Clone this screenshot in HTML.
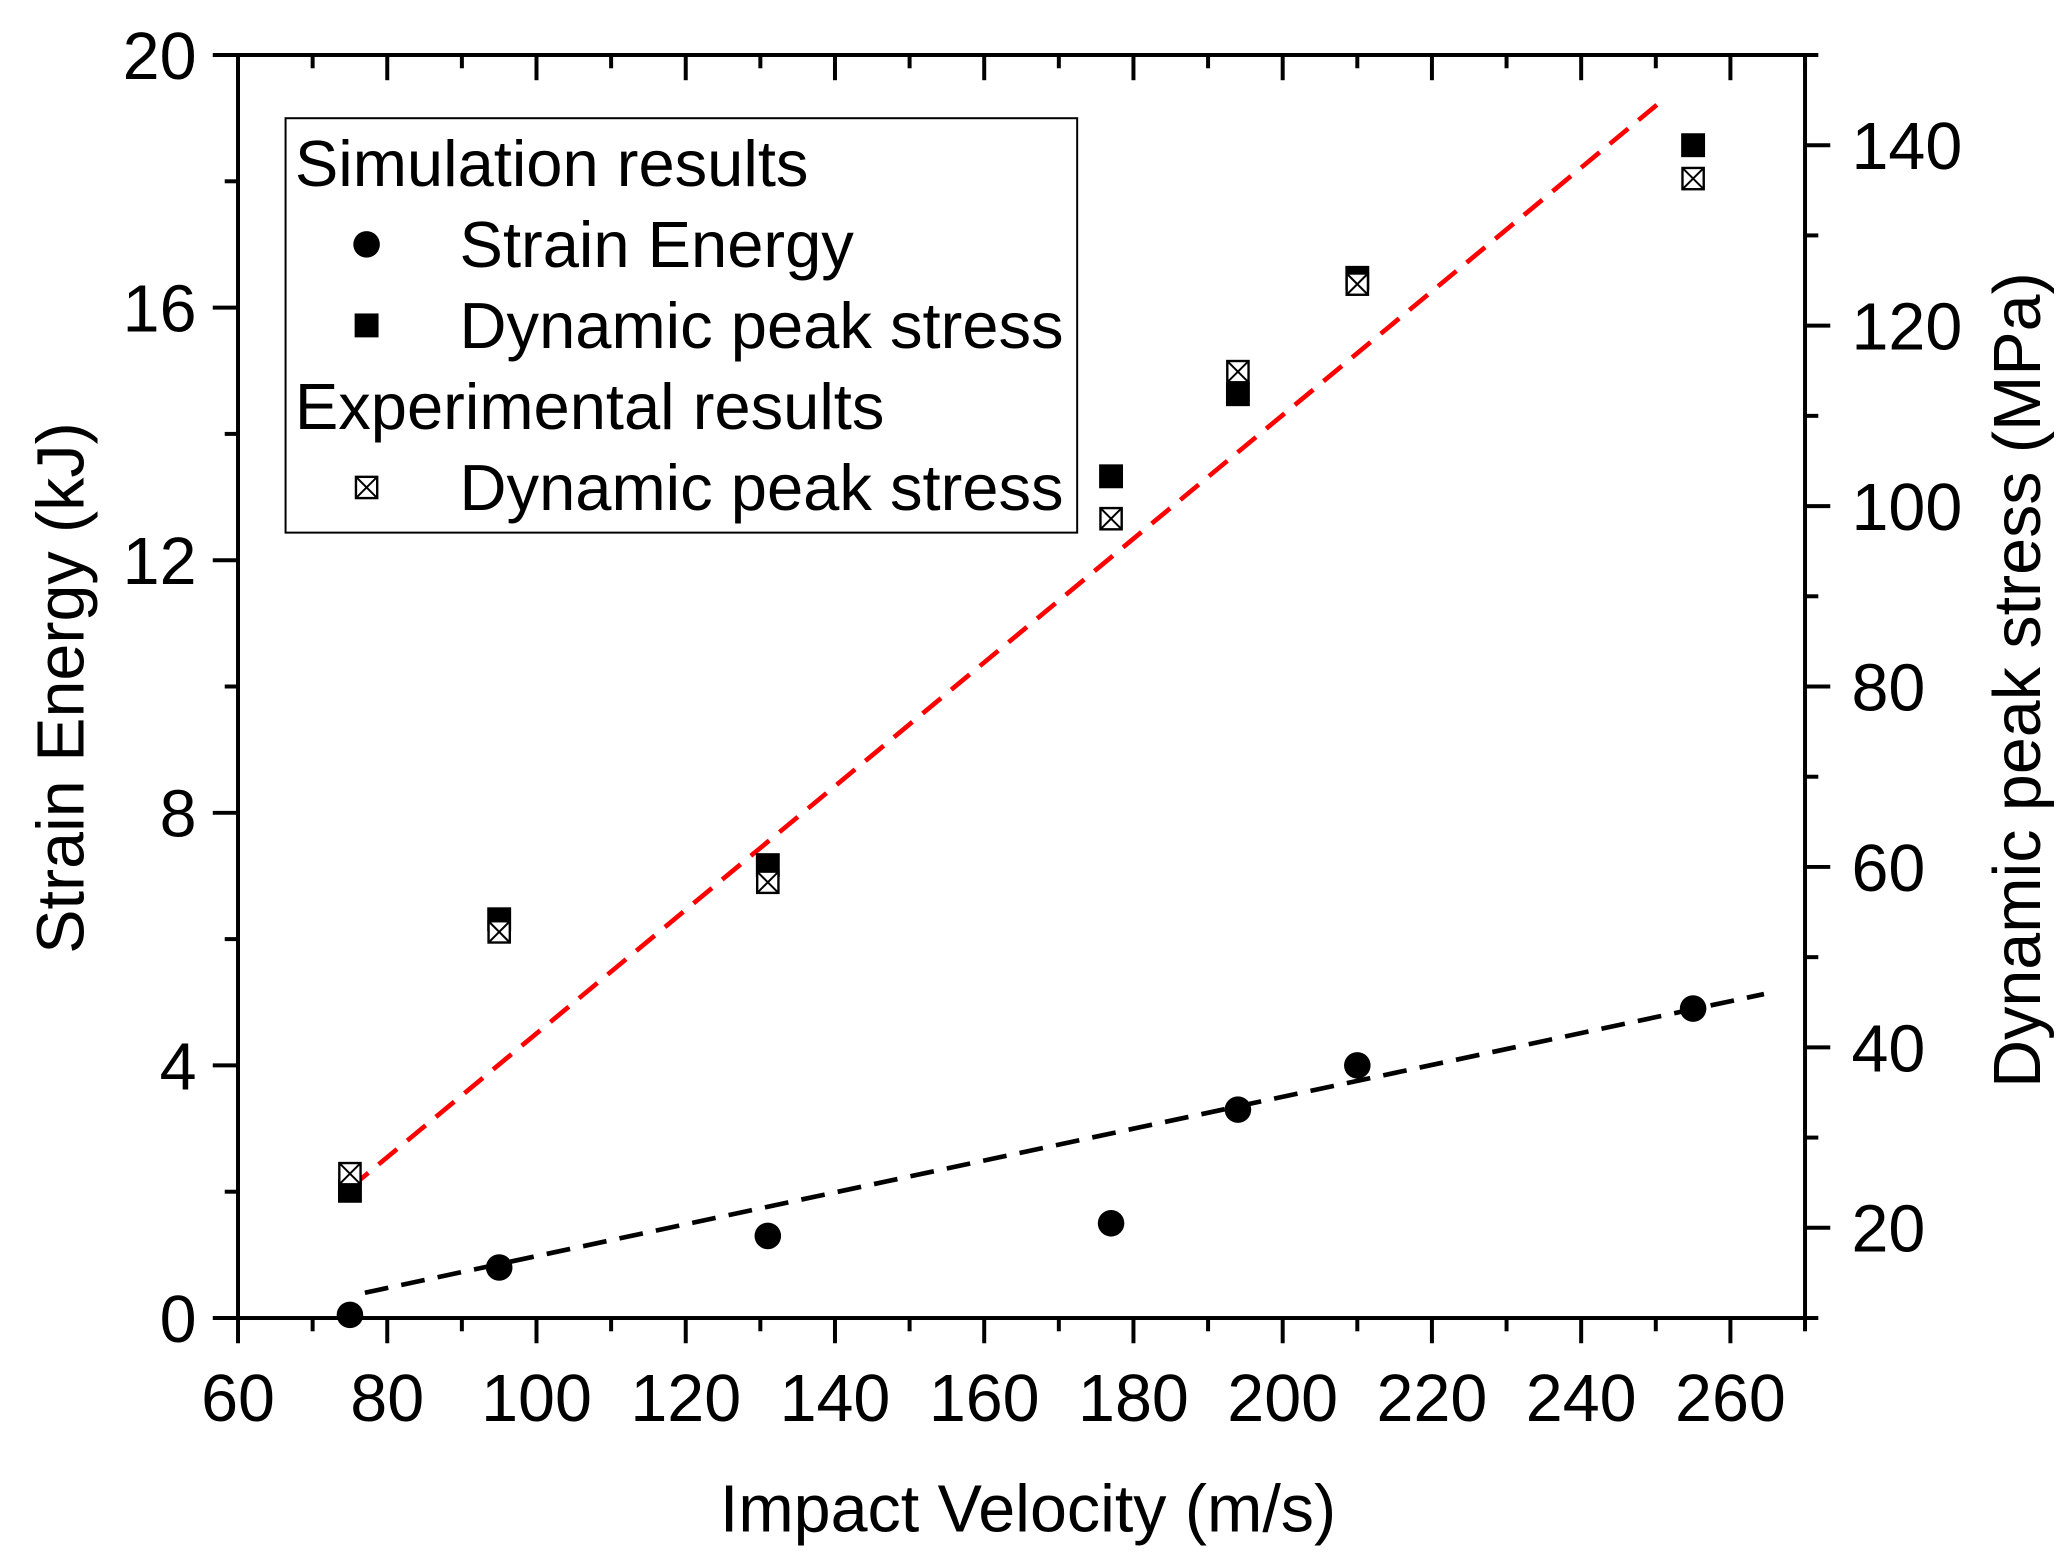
<!DOCTYPE html>
<html><head><meta charset="utf-8"><style>
html,body{margin:0;padding:0;background:#fff;}
svg{display:block;font-family:"Liberation Sans",Arial,sans-serif;}
</style></head><body>
<svg id="chart" width="2072" height="1566" viewBox="0 0 1560 1179" preserveAspectRatio="none" xmlns="http://www.w3.org/2000/svg">
<g id="g"></g>
</svg>
<script>
const velocities=[75,95,131,177,194,210,255];
const strainEnergy=[0.05,0.8,1.3,1.5,3.3,4.0,4.9];
const simStress=[24.1,54.2,60.2,103.3,112.4,125.3,140];
const expStress=[26,52.8,58.3,98.6,114.9,124.6,136.3];
const xTicks=[60,80,100,120,140,160,180,200,220,240,260];
const yLeftTicks=[0,4,8,12,16,20];
const yRightTicks=[20,40,60,80,100,120,140];
const redFit=[[75,24.4],[251.5,145.4]];
const blackFit=[[77,0.4],[264.5,5.13]];

const L=179.2,R=1359,T=41.4,B=992.3;
const X=v=>L+(v-60)*(R-L)/210;
const YL=v=>B-v*(B-T)/20;
const YR=v=>B-(v-10)*(B-T)/140;
const NS="http://www.w3.org/2000/svg";
const g=document.getElementById('g');
function mk(tag,attrs,parent){const e=document.createElementNS(NS,tag);for(const k in attrs)e.setAttribute(k,attrs[k]);(parent||g).appendChild(e);return e;}

let e=mk('rect',{x:L,y:T,width:R-L,height:B-T,fill:'none',stroke:'#000','stroke-width':3});



for(let v=60;v<=270;v+=10){
  const major=v%20===0, x=X(v);
  e=mk('line',{x1:x,x2:x,y1:B,y2:B+(major?19:10),stroke:'#000','stroke-width':3});
  
  
  e=mk('line',{x1:x,x2:x,y1:T,y2:T+(major?19:10),stroke:'#000','stroke-width':3});
  
  
}
xTicks.forEach(v=>{
  e=mk('text',{x:X(v),y:1070,'font-size':50,'text-anchor':'middle'});e.textContent=v;
  
  
});
for(let v=0;v<=20;v+=2){
  const major=v%4===0,y=YL(v);
  e=mk('line',{x1:L-(major?19:10),x2:L,y1:y,y2:y,stroke:'#000','stroke-width':3});
  
  
}
yLeftTicks.forEach(v=>{
  e=mk('text',{x:148,y:YL(v)+18,'font-size':50,'text-anchor':'end'});e.textContent=v;
  
  
});
for(let v=10;v<=150;v+=10){
  const major=v%20===0,y=YR(v);
  e=mk('line',{x1:R,x2:R+(major?19:10),y1:y,y2:y,stroke:'#000','stroke-width':3});
  
  
}
yRightTicks.forEach(v=>{
  e=mk('text',{x:1394,y:YR(v)+18,'font-size':50,'text-anchor':'start'});e.textContent=v;
  
  
});
e=mk('text',{x:774,y:1153,'font-size':50,'text-anchor':'middle'});e.textContent='Impact Velocity (m/s)';


e=mk('text',{x:0,y:0,'font-size':50,'text-anchor':'middle',transform:'translate(63,518) rotate(-90)'});e.textContent='Strain Energy (kJ)';


e=mk('text',{x:0,y:0,'font-size':50,'text-anchor':'middle',transform:'translate(1536,512) rotate(-90)'});e.textContent='Dynamic peak stress (MPa)';



e=mk('line',{x1:X(redFit[0][0]),y1:YR(redFit[0][1]),x2:X(redFit[1][0]),y2:YR(redFit[1][1]),stroke:'#f00','stroke-width':3.5,'stroke-dasharray':'18,10'});


e=mk('line',{x1:X(blackFit[0][0]),y1:YL(blackFit[0][1]),x2:X(blackFit[1][0]),y2:YL(blackFit[1][1]),stroke:'#000','stroke-width':3.5,'stroke-dasharray':'18,10'});



function expMarker(cx,cy,name){
  const s=8;
  const grp=mk('g',{});
  
  
  mk('rect',{x:cx-s,y:cy-s,width:2*s,height:2*s,fill:'#fff',stroke:'#000','stroke-width':1.8},grp);
  mk('path',{d:`M${cx-s} ${cy-s}L${cx+s} ${cy+s}M${cx+s} ${cy-s}L${cx-s} ${cy+s}`,stroke:'#000','stroke-width':1.5},grp);
}
velocities.forEach((v,i)=>{
  e=mk('rect',{x:X(v)-9,y:YR(simStress[i])-9,width:18,height:18,fill:'#000'});
  
  
  expMarker(X(v),YR(expStress[i]),'exp-stress-point');
  e=mk('circle',{cx:X(v),cy:YL(strainEnergy[i]),r:10,fill:'#000'});
  
  
});

const lg=mk('g',{});


mk('rect',{x:215,y:89,width:596,height:312,fill:'#fff',stroke:'#000','stroke-width':1.5},lg);
const rows=[['Simulation results',222,140,null],['Strain Energy',346,201,'c'],['Dynamic peak stress',346,262,'s'],['Experimental results',222,323,null],['Dynamic peak stress',346,384,'x']];
rows.forEach(r=>{
  e=mk('text',{x:r[1],y:r[2],'font-size':49},lg);e.textContent=r[0];
  
  
  const cy=r[2]-17;
  if(r[3]==='c'){e=mk('circle',{cx:276,cy:cy,r:10,fill:'#000'},lg);}
  if(r[3]==='s'){e=mk('rect',{x:267,y:cy-9,width:18,height:18,fill:'#000'},lg);}
  if(r[3]==='x'){expMarker(276,cy,'legend-crossed-square');}
});
</script>
</body></html>
